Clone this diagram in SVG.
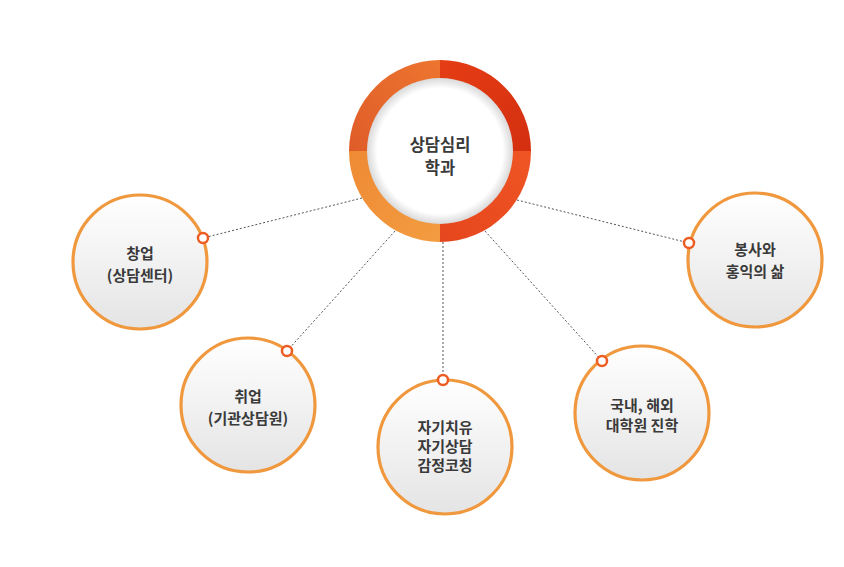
<svg xmlns="http://www.w3.org/2000/svg" width="844" height="567" viewBox="0 0 844 567">
<defs>
<style>
.node circle.c{fill:url(#nodeFill);stroke:#f0983e;stroke-width:3.2}
.dot{fill:#fff;stroke:#ee5c22;stroke-width:2.5}
.t{font-family:"Noto Sans CJK KR","Noto Sans",sans-serif;font-weight:bold;font-size:15px;fill:#3a3a3a;text-anchor:middle}
.tc{font-size:16.5px}
.conn line{stroke:#555;stroke-width:1;stroke-dasharray:2 2}
</style>
<linearGradient id="nodeFill" x1="0" y1="0" x2="0" y2="1">
<stop offset="0" stop-color="#ffffff"/>
<stop offset="1" stop-color="#e4e4e4"/>
</linearGradient>
<linearGradient id="qTL" x1="0" y1="1" x2="1" y2="0">
<stop offset="0" stop-color="#df5c29"/>
<stop offset="1" stop-color="#ed752f"/>
</linearGradient>
<linearGradient id="qTR" x1="0" y1="0" x2="1" y2="1">
<stop offset="0" stop-color="#e53d14"/>
<stop offset="1" stop-color="#d32f10"/>
</linearGradient>
<linearGradient id="qBR" x1="1" y1="0" x2="0" y2="1">
<stop offset="0" stop-color="#ef5524"/>
<stop offset="1" stop-color="#e6461d"/>
</linearGradient>
<linearGradient id="qBL" x1="0" y1="0" x2="1" y2="1">
<stop offset="0" stop-color="#ee8a34"/>
<stop offset="1" stop-color="#f39c40"/>
</linearGradient>
<radialGradient id="inner" cx="0.5" cy="0.5" r="0.5">
<stop offset="0.86" stop-color="#ffffff"/>
<stop offset="1" stop-color="#d9d9d9"/>
</radialGradient>
</defs>
<rect width="844" height="567" fill="#ffffff"/>
<g id="connectors" class="conn">
<line x1="362" y1="198" x2="203" y2="238"/>
<line x1="395" y1="231" x2="287" y2="351"/>
<line x1="443" y1="242" x2="443" y2="380"/>
<line x1="485" y1="231" x2="602" y2="361"/>
<line x1="517" y1="200" x2="689" y2="243"/>
</g>
<g id="center">
<path d="M349 151 A91 91 0 0 1 440 60 L440 151 Z" fill="url(#qTL)"/>
<path d="M440 60 A91 91 0 0 1 531 151 L440 151 Z" fill="url(#qTR)"/>
<path d="M531 151 A91 91 0 0 1 440 242 L440 151 Z" fill="url(#qBR)"/>
<path d="M440 242 A91 91 0 0 1 349 151 L440 151 Z" fill="url(#qBL)"/>
<circle cx="440" cy="151" r="73" fill="url(#inner)"/>
<text class="t tc" x="440" y="151">상담심리</text>
<text class="t tc" x="440" y="174">학과</text>
</g>
<g id="n1" class="node">
<circle class="c" cx="140" cy="262" r="67"/>
<circle class="dot" cx="203" cy="238" r="5"/>
<text class="t" x="140" y="259">창업</text>
<text class="t" x="140" y="281">(상담센터)</text>
</g>
<g id="n2" class="node">
<circle class="c" cx="248" cy="405" r="67"/>
<circle class="dot" cx="287" cy="351" r="5"/>
<text class="t" x="248" y="402">취업</text>
<text class="t" x="248" y="424">(기관상담원)</text>
</g>
<g id="n3" class="node">
<circle class="c" cx="445" cy="447" r="67"/>
<circle class="dot" cx="443" cy="380" r="5"/>
<text class="t" x="445" y="433">자기치유</text>
<text class="t" x="445" y="452">자기상담</text>
<text class="t" x="445" y="471">감정코칭</text>
</g>
<g id="n4" class="node">
<circle class="c" cx="642" cy="413" r="67"/>
<circle class="dot" cx="602" cy="361" r="5"/>
<text class="t" x="642" y="411">국내, 해외</text>
<text class="t" x="642" y="431">대학원 진학</text>
</g>
<g id="n5" class="node">
<circle class="c" cx="755" cy="260" r="67"/>
<circle class="dot" cx="689" cy="243" r="5"/>
<text class="t" x="755" y="255">봉사와</text>
<text class="t" x="755" y="277">홍익의 삶</text>
</g>
</svg>
